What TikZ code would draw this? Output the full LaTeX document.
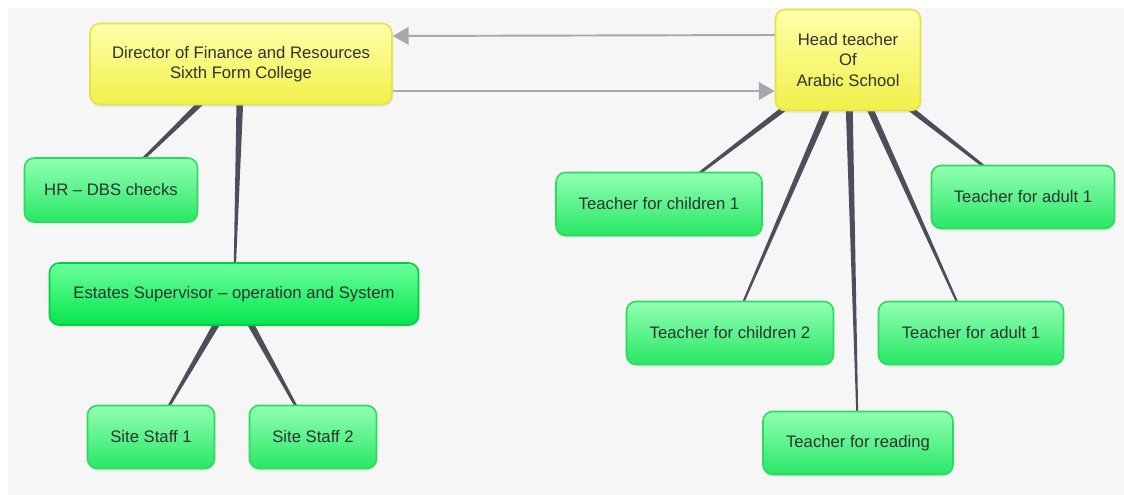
\documentclass[tikz,border=0pt]{standalone}
\usepackage{fontspec}
\setmainfont{Liberation Sans}
\usetikzlibrary{arrows.meta,calc,backgrounds,shadows}

\definecolor{paper}{HTML}{F6F6F6}
\definecolor{txt}{HTML}{2E3333}
\definecolor{ytop}{HTML}{FFFFAA}
\definecolor{ybot}{HTML}{F0F04A}
\definecolor{yedge}{HTML}{E2E24E}
\definecolor{gtop}{HTML}{92FFB3}
\definecolor{gbot}{HTML}{28E765}
\definecolor{gedge}{HTML}{2ADB5E}
\definecolor{etop}{HTML}{6CFF9C}
\definecolor{ebot}{HTML}{04E64C}
\definecolor{eedge}{HTML}{00CC44}
\definecolor{linkcol}{HTML}{4A4F5B}
\definecolor{arrowcol}{HTML}{A5A8AE}

\tikzset{
    box/.style={rounded corners=5.5pt, line width=0.9pt, align=center, text=txt,
        font=\fontsize{9.5}{11.5}\selectfont, minimum height=1.26cm, inner sep=0pt,
        drop shadow={opacity=0.12, shadow xshift=0.4pt, shadow yshift=-1.3pt}},
    boss/.style={box, draw=yedge, top color=ytop, bottom color=ybot},
    staff/.style={box, draw=gedge, top color=gtop, bottom color=gbot},
    lead/.style={box, draw=eedge, top color=etop, bottom color=ebot},
    link/.style={fill=linkcol},
    flow/.style={draw=arrowcol, line width=1.1pt, -{Triangle[length=9pt,width=10pt]}}
}

\newcommand\taperlink[2]{%
    \fill[link] ($(#1)!2.2pt!90:(#2)$) -- ($(#1)!2.2pt!-90:(#2)$)
        -- ($(#2)!0.4pt!90:(#1)$) -- ($(#2)!0.4pt!-90:(#1)$) -- cycle;}

\begin{document}
\begin{tikzpicture}

    \useasboundingbox (0,0) rectangle (22.48,-9.9);

    \node[boss, minimum width=6.04cm, minimum height=1.62cm] (dir) at (4.82,-1.28)
        {Director of Finance and Resources\\Sixth Form College};
    \node[boss, minimum width=2.9cm, minimum height=2.02cm] (head) at (16.96,-1.20)
        {Head teacher\\Of\\Arabic School};

    \node[staff, minimum width=3.46cm, minimum height=1.28cm] (hr) at (2.22,-3.80) {HR – DBS checks};
    \node[lead, minimum width=7.38cm, minimum height=1.24cm] (estates) at (4.68,-5.88)
        {Estates Supervisor – operation and System};
    \node[staff, minimum width=2.54cm] (site1) at (3.02,-8.74) {Site Staff 1};
    \node[staff, minimum width=2.54cm] (site2) at (6.26,-8.74) {Site Staff 2};

    \node[staff, minimum width=4.12cm] (child1) at (13.18,-4.08) {Teacher for children 1};
    \node[staff, minimum width=3.66cm] (adult1) at (20.46,-3.94) {Teacher for adult 1};
    \node[staff, minimum width=4.14cm] (child2) at (14.60,-6.66) {Teacher for children 2};
    \node[staff, minimum width=3.70cm] (adult2) at (19.42,-6.66) {Teacher for adult 1};
    \node[staff, minimum width=3.80cm] (reading) at (17.16,-8.86) {Teacher for reading};

    \begin{scope}[on background layer]
        \fill[white] (0,0) rectangle (22.48,-9.9);
        \fill[paper] (0.16,-0.16) rectangle (22.48,-9.9);

        \taperlink{dir}{hr}
        \taperlink{dir}{estates}
        \taperlink{estates}{site1}
        \taperlink{estates}{site2}

        \taperlink{head}{child1}
        \taperlink{head}{child2}
        \taperlink{head}{reading}
        \taperlink{head}{adult2}
        \taperlink{head}{adult1}
    \end{scope}

    \draw[flow] ($(head.west)+(0,0.50)$) -- ($(dir.east)+(0,0.56)$);
    \draw[flow] ($(dir.east)+(0,-0.54)$) -- ($(head.west)+(0,-0.62)$);

\end{tikzpicture}
\end{document}
